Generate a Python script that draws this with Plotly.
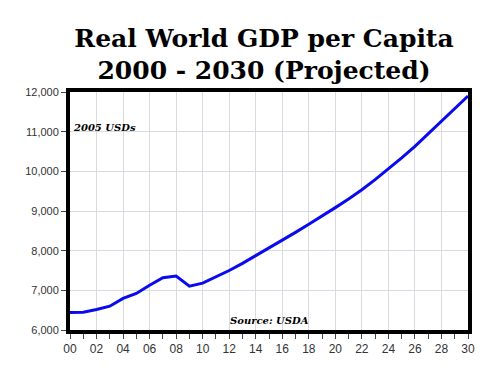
import plotly.graph_objects as go

years = list(range(2000, 2031))
gdp_per_capita = [6440, 6450, 6515, 6600, 6795, 6920, 7130, 7320, 7360, 7105,
                  7180, 7330, 7500, 7680, 7870, 8060, 8260, 8460, 8665, 8870,
                  9085, 9305, 9535, 9790, 10055, 10340, 10630, 10945, 11270, 11590,
                  11900]
x_tick_vals = list(range(2000, 2031, 2))
x_tick_text = ["00", "02", "04", "06", "08", "10", "12", "14", "16", "18",
               "20", "22", "24", "26", "28", "30"]
y_tick_vals = [6000, 7000, 8000, 9000, 10000, 11000, 12000]

fig = go.Figure()
fig.add_trace(go.Scatter(x=years, y=gdp_per_capita, mode="lines",
                         line=dict(color="#0a0aee", width=3), showlegend=False))

fig.update_layout(
    width=500, height=375,
    margin=dict(l=70, r=32, t=92, b=45),
    paper_bgcolor="white", plot_bgcolor="white",
    title=dict(text="Real World GDP per Capita<br>2000 - 2030 (Projected)",
               x=0.528, xanchor="center", y=0.876, yanchor="bottom",
               font=dict(family="DejaVu Serif", size=25, color="black", weight="bold")),
    font=dict(family="Liberation Sans, Arial", size=11, color="#333"),
)
fig.update_xaxes(range=[2000, 2030], tickvals=x_tick_vals, ticktext=x_tick_text,
                 showgrid=True, gridcolor="#dadae0", gridwidth=1,
                 showline=True, linecolor="black", linewidth=4, mirror=True,
                 ticks="outside", ticklen=5, tickcolor="#444",
                 minor=dict(tickmode="linear", tick0=2000, dtick=1, ticks="outside",
                            ticklen=5, tickcolor="#444", showgrid=False),
                 tickfont=dict(size=12, color="#333"), zeroline=False)
fig.update_yaxes(range=[6000, 12000], tickvals=y_tick_vals, tickformat=",",
                 showgrid=True, gridcolor="#dadae0", gridwidth=1,
                 showline=True, linecolor="black", linewidth=4, mirror=True,
                 ticks="outside", ticklen=5, tickcolor="#444",
                 tickfont=dict(size=11, color="#333"), zeroline=False)

fig.add_annotation(text="<b><i>2005 USDs</i></b>", xref="paper", yref="paper",
                   x=0.003, y=0.85, xanchor="left", yanchor="middle", showarrow=False,
                   font=dict(family="DejaVu Serif", size=10, color="black"))
fig.add_annotation(text="<b><i>Source: USDA</i></b>", xref="paper", yref="paper",
                   x=0.5, y=0.04, xanchor="center", yanchor="middle", showarrow=False,
                   font=dict(family="DejaVu Serif", size=10, color="black"))

fig.write_html("out.html", config={"displayModeBar": False},
               post_script="document.body.style.margin='0px';")
